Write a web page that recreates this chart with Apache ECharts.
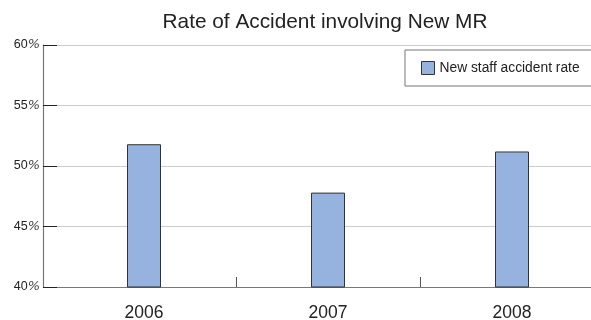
<!DOCTYPE html>
<html>
<head>
<meta charset="utf-8">
<script src="https://cdn.jsdelivr.net/npm/echarts@6/dist/echarts.min.js"></script>
<style>
  html, body { margin: 0; padding: 0; background: #fff; }
  #chart { width: 591px; height: 320px; }
</style>
</head>
<body>
<div id="chart"></div>
<script>
// Accident rate among new staff, by year
const years = ['2006', '2007', '2008'];
const newStaffRate = [51.8, 47.8, 51.2];
const yTicks = [40, 45, 50, 55, 60];

const font = 'Liberation Sans, Arial, Helvetica, sans-serif';
const chart = echarts.init(document.getElementById('chart'));

chart.setOption({
  animation: false,
  textStyle: { fontFamily: font },
  title: {
    text: 'Rate of Accident involving New MR',
    left: 320,
    textAlign: 'center',
    top: 7,
    textStyle: { fontSize: 20.8, fontWeight: 'normal', color: '#222', fontFamily: font }
  },
  legend: {
    data: ['New staff accident rate'],
    icon: 'rect',
    left: 405,
    top: 50,
    orient: 'vertical',
    padding: [11, 40, 11, 16],
    borderColor: '#777',
    borderWidth: 1,
    itemWidth: 13,
    itemHeight: 13,
    itemGap: 6,
    itemStyle: { borderWidth: 1, borderColor: '#333' },
    textStyle: { fontSize: 13.8, color: '#222', fontFamily: font }
  },
  grid: {
    left: 52, top: 45, width: 552, height: 242,
    containLabel: false,
    outerBoundsMode: 'none'
  },
  xAxis: {
    type: 'category',
    data: years,
    boundaryGap: true,
    axisLine: { lineStyle: { color: '#777', width: 1.2 } },
    axisTick: {
      show: true,
      inside: true,
      length: 10,
      interval: function (i) { return i > 0; },
      lineStyle: { color: '#555' }
    },
    axisLabel: { fontSize: 17.5, color: '#222', margin: 17, fontFamily: font }
  },
  yAxis: {
    type: 'value',
    min: yTicks[0],
    max: yTicks[yTicks.length - 1],
    interval: 5,
    offset: 9,
    axisLine: { show: true, lineStyle: { color: '#777', width: 1.2 } },
    axisTick: { show: true, inside: true, length: 14, lineStyle: { color: '#222' } },
    splitLine: { lineStyle: { color: '#ccc' } },
    axisLabel: {
      margin: 3,
      formatter: function (v) { return '{n|' + v + '}{p|%}'; },
      rich: {
        n: { fontSize: 12.5, color: '#222', fontFamily: font },
        p: { fontSize: 13, color: '#444', fontStyle: 'italic', fontFamily: 'DejaVu Sans, sans-serif', fontWeight: 'lighter' }
      }
    }
  },
  series: [{
    name: 'New staff accident rate',
    type: 'bar',
    data: newStaffRate,
    barWidth: 34,
    itemStyle: { color: '#95b3de', borderColor: '#333', borderWidth: 1 }
  }]
});
</script>
</body>
</html>
